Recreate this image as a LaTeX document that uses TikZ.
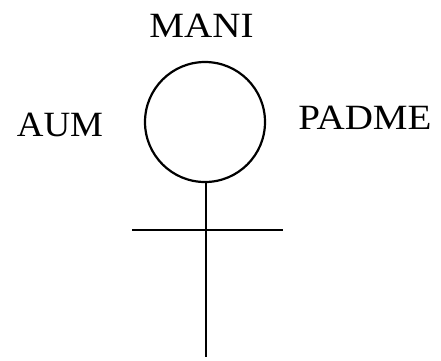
\documentclass[tikz,border=0pt]{standalone}
\usepackage{fontspec}
\setmainfont{Liberation Serif}
\usetikzlibrary{calc}
\begin{document}
\begin{tikzpicture}[x=1pt,y=-1pt,
  lbl/.style={anchor=base, inner sep=0pt, font=\fontsize{35.5}{40}\selectfont},
  ink/.style={line width=2.2pt, line cap=butt}]
\useasboundingbox (0,0) rectangle (441,360);
\node[ink, draw, circle, minimum size=120pt, inner sep=0pt] (c) at (205,122) {};
\node[lbl] (aum) at (60,136) {\scalebox{1.04}[1]{AUM}};
\node[lbl] (mani) at (201.5,37) {\scalebox{1.1}[1]{MANI}};
\node[lbl] (padme) at (365,129) {\scalebox{1.1}[1]{PADME}};
\coordinate (top) at (206,182);
\coordinate (bot) at (206,357);
\coordinate (hl) at (132,230);
\coordinate (hr) at (283,230);
\draw[ink] (top) -- (bot);
\draw[ink] (hl) -- (hr);
\end{tikzpicture}
\end{document}
